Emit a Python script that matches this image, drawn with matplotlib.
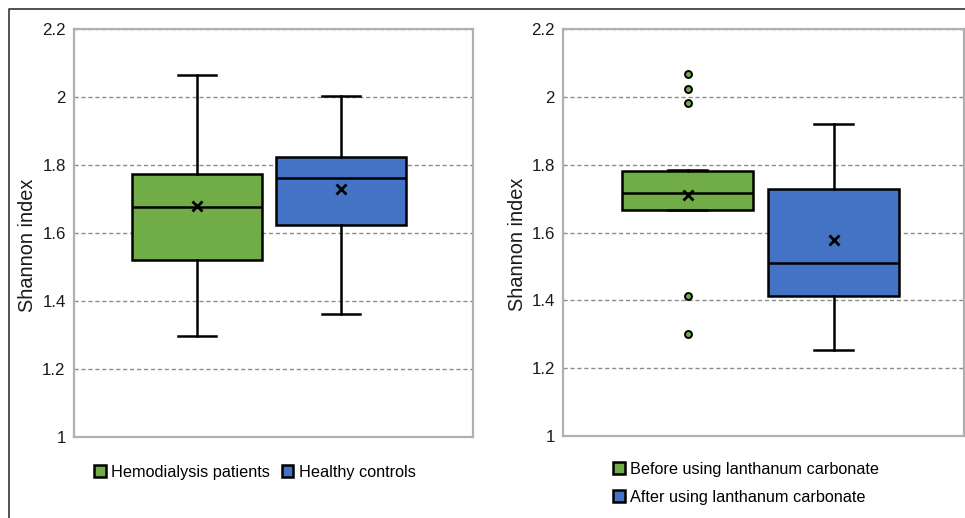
import matplotlib
matplotlib.use('Agg')
import matplotlib.pyplot as plt
from matplotlib.patches import Patch
from matplotlib.lines import Line2D
from matplotlib.ticker import FuncFormatter

plt.rcParams['font.family'] = ['Liberation Sans', 'DejaVu Sans']

green = '#70ad47'
blue = '#4472c4'

# left panel: hemodialysis patients vs healthy controls
left_labels = ['Hemodialysis patients', 'Healthy controls']
left_whislo = [1.298, 1.362]
left_q1 = [1.521, 1.624]
left_med = [1.678, 1.762]
left_q3 = [1.775, 1.825]
left_whishi = [2.065, 2.005]
left_mean = [1.680, 1.730]
left_fliers = [[], []]

# right panel: before vs after lanthanum carbonate
right_labels = ['Before using lanthanum carbonate', 'After using lanthanum carbonate']
right_whislo = [1.665, 1.253]
right_q1 = [1.667, 1.413]
right_med = [1.716, 1.509]
right_q3 = [1.782, 1.729]
right_whishi = [1.785, 1.920]
right_mean = [1.711, 1.578]
right_fliers = [[2.068, 2.023, 1.981, 1.412, 1.299], []]

yticks = [1, 1.2, 1.4, 1.6, 1.8, 2, 2.2]
colors = [green, blue]

fig = plt.figure(figsize=(9.65, 5.18), dpi=100)
ax1 = fig.add_axes([0.0767, 0.1564, 0.4135, 0.7867])
ax2 = fig.add_axes([0.5837, 0.1589, 0.4152, 0.7845])


def draw_panel(ax, labels, whislo, q1, med, q3, whishi, mean, fliers, xlim, labelx):
    stats = []
    for i in range(len(labels)):
        stats.append(dict(label=labels[i], whislo=whislo[i], q1=q1[i], med=med[i],
                          q3=q3[i], whishi=whishi[i], mean=mean[i], fliers=fliers[i]))
    bp = ax.bxp(stats, positions=[1, 2], widths=0.9, capwidths=0.27,
                patch_artist=True, showmeans=True, showfliers=True,
                boxprops=dict(edgecolor='black', linewidth=1.8),
                medianprops=dict(color='black', linewidth=1.8),
                whiskerprops=dict(color='black', linewidth=1.8),
                capprops=dict(color='black', linewidth=1.8),
                meanprops=dict(marker='x', markeredgecolor='black', markersize=7.5,
                               markeredgewidth=2),
                flierprops=dict(marker='o', markerfacecolor=green,
                                markeredgecolor='black', markersize=5,
                                markeredgewidth=1.4))
    for patch, c in zip(bp['boxes'], colors):
        patch.set_facecolor(c)
    ax.set_xlim(*xlim)
    ax.set_ylim(1, 2.2)
    ax.set_yticks(yticks)
    ax.yaxis.set_major_formatter(FuncFormatter(lambda v, _: f'{v:g}'))
    ax.set_xticks([])
    ax.tick_params(axis='y', length=0, pad=6, labelsize=12.2, colors='#1a1a1a')
    ax.grid(axis='y', linestyle=(0, (3, 2)), color='#8c8c8c', linewidth=1)
    ax.set_axisbelow(True)
    for s in ax.spines.values():
        s.set_color('#b0b0b0')
        s.set_linewidth(1.6)
    ax.set_ylabel('Shannon index', fontsize=14.3, color='#1a1a1a')
    ax.yaxis.set_label_coords(labelx, 0.47)


draw_panel(ax1, left_labels, left_whislo, left_q1, left_med, left_q3,
           left_whishi, left_mean, left_fliers, (0.146, 2.917), -0.093)
draw_panel(ax2, right_labels, right_whislo, right_q1, right_med, right_q3,
           right_whishi, right_mean, right_fliers, (0.148, 2.892), -0.091)

h1 = [Patch(facecolor=c, edgecolor='black', linewidth=1.8) for c in colors]
fig.legend(h1, left_labels, loc='center', bbox_to_anchor=(255 / 965, 1 - 472 / 518),
           ncol=2, frameon=False, fontsize=11.7, handlelength=0.72, handleheight=0.75,
           handletextpad=0.35, columnspacing=0.7, borderpad=0, borderaxespad=0)

h2 = [Patch(facecolor=c, edgecolor='black', linewidth=1.8) for c in colors]
fig.legend(h2, right_labels, loc='center left', bbox_to_anchor=(613 / 965, 1 - 483.5 / 518),
           ncol=1, frameon=False, fontsize=11.7, handlelength=0.72, handleheight=0.75,
           handletextpad=0.35, labelspacing=0.8, borderpad=0, borderaxespad=0)

# outer frame along the top and left edge
fig.add_artist(Line2D([9 / 965, 9 / 965, 1], [0, 1 - 9 / 518, 1 - 9 / 518],
                      transform=fig.transFigure, color='#333333', linewidth=1.2))

fig.savefig('out.png', dpi=100)
